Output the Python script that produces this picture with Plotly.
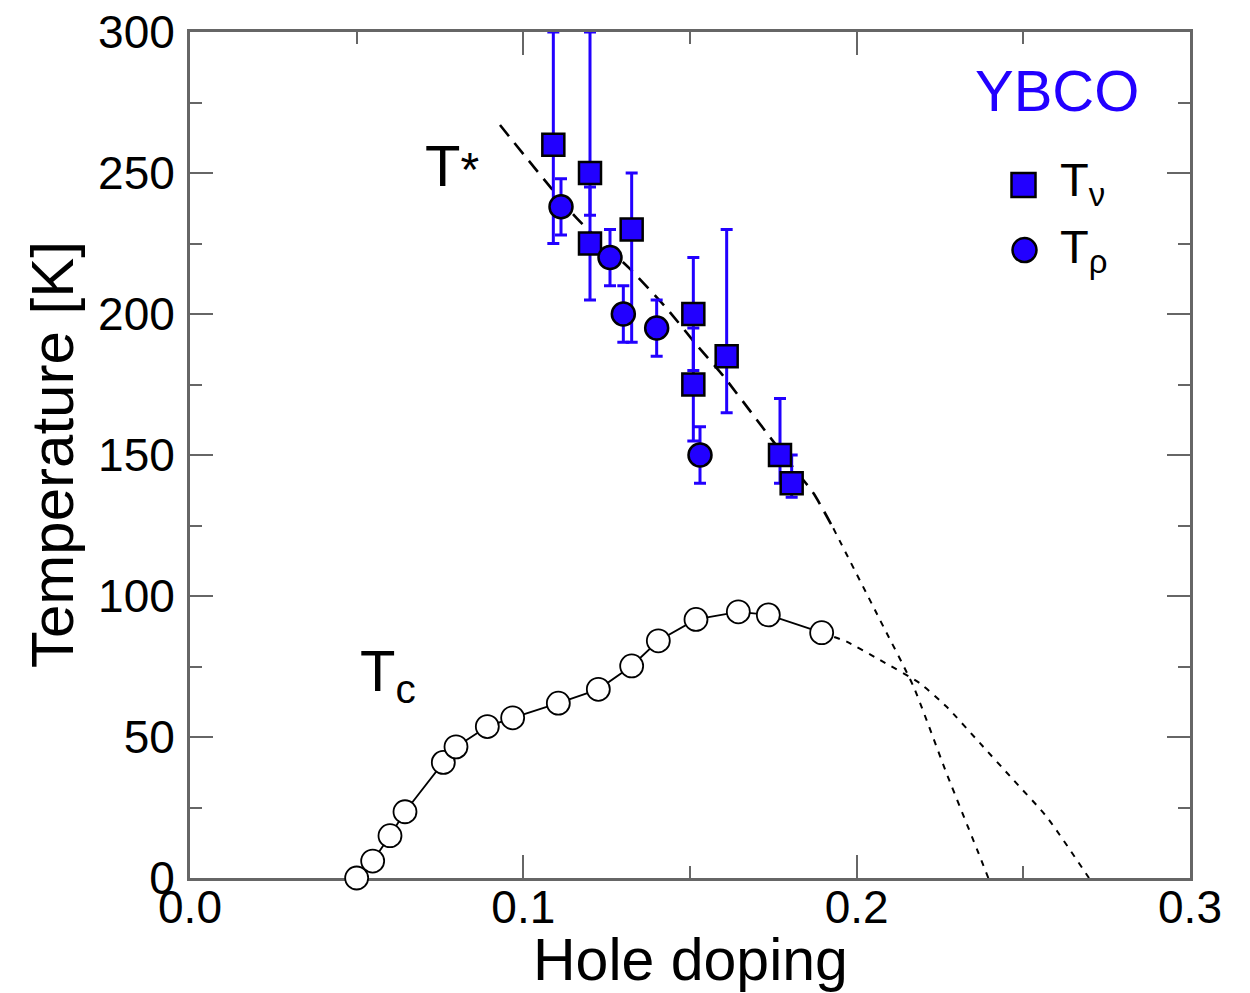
import plotly.graph_objects as go

FONT = "Liberation Sans, Arial, Helvetica, sans-serif"
BLUE = "#2200ff"
AXIS_GREY = "#666666"

# T_nu (squares) with asymmetric error bars
tnu_doping = [0.109, 0.120, 0.120, 0.1325, 0.151, 0.151, 0.161, 0.177, 0.1805]
tnu_temp = [260, 250, 225, 230, 200, 175, 185, 150, 140]
tnu_err_plus = [40, 50, 20, 20, 20, 20, 45, 20, 10]
tnu_err_minus = [35, 15, 20, 40, 20, 20, 20, 10, 5]

# T_rho (filled circles)
trho_doping = [0.1113, 0.126, 0.130, 0.140, 0.153]
trho_temp = [238, 220, 200, 195, 150]
trho_err = [10, 10, 10, 10, 10]

# Superconducting dome Tc (open circles)
tc_doping = [0.050, 0.0548, 0.060, 0.0645, 0.076, 0.0798, 0.0892, 0.0968,
             0.1105, 0.1225, 0.1325, 0.1405, 0.1518, 0.1645, 0.1735, 0.1895]
tc_temp = [0, 6, 15, 23.5, 41, 46.5, 53.7, 56.8,
           62, 66.9, 75.2, 84.1, 91.7, 94.4, 93.3, 87]

# Guide lines
tstar_fit_doping = [0.093, 0.116, 0.132, 0.143, 0.152, 0.160, 0.171, 0.180, 0.187, 0.193]
tstar_fit_temp = [267, 234, 216, 202, 189, 178, 161, 147, 136.5, 124]
tstar_ext_doping = [0.193, 0.207, 0.217, 0.227, 0.237, 0.2395]
tstar_ext_temp = [124, 91.5, 68, 37, 7.5, 0]
tc_ext_doping = [0.1895, 0.197, 0.207, 0.219, 0.227, 0.237, 0.247, 0.257, 0.2697]
tc_ext_temp = [87, 83.8, 77.3, 69, 60.7, 47.8, 34.8, 21.7, 0]

fig = go.Figure()

# extrapolated guides (short dashes)
fig.add_trace(go.Scatter(x=tstar_ext_doping, y=tstar_ext_temp, mode="lines",
                         line=dict(color="black", width=2, dash="6px,7px", shape="spline", smoothing=0.6),
                         showlegend=False, hoverinfo="skip"))
fig.add_trace(go.Scatter(x=tc_ext_doping, y=tc_ext_temp, mode="lines",
                         line=dict(color="black", width=2, dash="6px,7px", shape="spline", smoothing=0.6),
                         showlegend=False, hoverinfo="skip"))
# T* fit (long dashes)
fig.add_trace(go.Scatter(x=tstar_fit_doping, y=tstar_fit_temp, mode="lines",
                         line=dict(color="black", width=2.6, dash="14px,9px", shape="spline", smoothing=0.6),
                         showlegend=False, hoverinfo="skip"))

# Tc dome
fig.add_trace(go.Scatter(x=tc_doping, y=tc_temp, mode="lines+markers", cliponaxis=False,
                         line=dict(color="black", width=1.8),
                         marker=dict(symbol="circle", size=23, color="white",
                                     line=dict(color="black", width=1.8)),
                         showlegend=False))

# T_nu squares
fig.add_trace(go.Scatter(x=tnu_doping, y=tnu_temp, mode="markers",
                         error_y=dict(type="data", symmetric=False, array=tnu_err_plus,
                                      arrayminus=tnu_err_minus, color=BLUE, thickness=3, width=6),
                         marker=dict(symbol="square", size=22, color=BLUE,
                                     line=dict(color="black", width=2.5)),
                         showlegend=False))

# T_rho circles
fig.add_trace(go.Scatter(x=trho_doping, y=trho_temp, mode="markers",
                         error_y=dict(type="data", array=trho_err, color=BLUE, thickness=3, width=6),
                         marker=dict(symbol="circle", size=23, color=BLUE,
                                     line=dict(color="black", width=2.5)),
                         showlegend=False))

tick_font = dict(family=FONT, size=46, color="black")
common_axis = dict(showline=True, linecolor=AXIS_GREY, linewidth=3, mirror="ticks",
                   ticks="inside", ticklen=23, tickwidth=2, tickcolor=AXIS_GREY,
                   showgrid=False, zeroline=False, tickfont=tick_font, layer="below traces")

fig.update_xaxes(range=[0, 0.3], tick0=0, dtick=0.1, tickformat=".1f",
                 ticklabelstandoff=-13,
                 minor=dict(dtick=0.05, ticks="inside", ticklen=12, tickwidth=2, tickcolor=AXIS_GREY),
                 **common_axis)
fig.update_yaxes(range=[0, 300], tick0=0, dtick=50,
                 ticklabelstandoff=3,
                 minor=dict(dtick=25, ticks="inside", ticklen=12, tickwidth=2, tickcolor=AXIS_GREY),
                 **common_axis)

annotations = [
    dict(text="Hole doping", x=0.5, y=-0.097, xref="paper", yref="paper",
         xanchor="center", yanchor="middle", showarrow=False,
         font=dict(family=FONT, size=59, color="black")),
    dict(text="Temperature [K]", x=-0.138, y=0.5, xref="paper", yref="paper",
         xanchor="center", yanchor="middle", textangle=-90, showarrow=False,
         font=dict(family=FONT, size=60, color="black")),
    dict(text="T<span style='font-size:48px'>*</span>", x=0.262, y=0.842, xref="paper", yref="paper",
         xanchor="center", yanchor="middle", showarrow=False,
         font=dict(family=FONT, size=58, color="black")),
    dict(text="T<sub>c</sub>", x=0.198, y=0.24, xref="paper", yref="paper",
         xanchor="center", yanchor="middle", showarrow=False,
         font=dict(family=FONT, size=58, color="black")),
    dict(text="YBCO", x=0.867, y=0.931, xref="paper", yref="paper",
         xanchor="center", yanchor="middle", showarrow=False,
         font=dict(family=FONT, size=58, color=BLUE)),
    dict(text="T<sub>ν</sub>", x=0.868, y=0.822, xref="paper", yref="paper",
         xanchor="left", yanchor="middle", showarrow=False,
         font=dict(family=FONT, size=47, color="black")),
    dict(text="T<sub>ρ</sub>", x=0.868, y=0.742, xref="paper", yref="paper",
         xanchor="left", yanchor="middle", showarrow=False,
         font=dict(family=FONT, size=47, color="black")),
]

# legend glyphs
shapes = [
    dict(type="rect", xref="paper", yref="paper", xsizemode="pixel", ysizemode="pixel",
         xanchor=0.8335, yanchor=0.8191, x0=-12, x1=12, y0=-12, y1=12,
         fillcolor=BLUE, line=dict(color="black", width=2.5)),
    dict(type="circle", xref="paper", yref="paper", xsizemode="pixel", ysizemode="pixel",
         xanchor=0.8345, yanchor=0.7423, x0=-12, x1=12, y0=-12, y1=12,
         fillcolor=BLUE, line=dict(color="black", width=2.5)),
]

fig.update_layout(width=1250, height=993,
                  margin=dict(l=190, r=60, t=32, b=115, autoexpand=False),
                  paper_bgcolor="white", plot_bgcolor="white",
                  font=dict(family=FONT, color="black"),
                  annotations=annotations, shapes=shapes, showlegend=False)

fig.write_html("out.html")
